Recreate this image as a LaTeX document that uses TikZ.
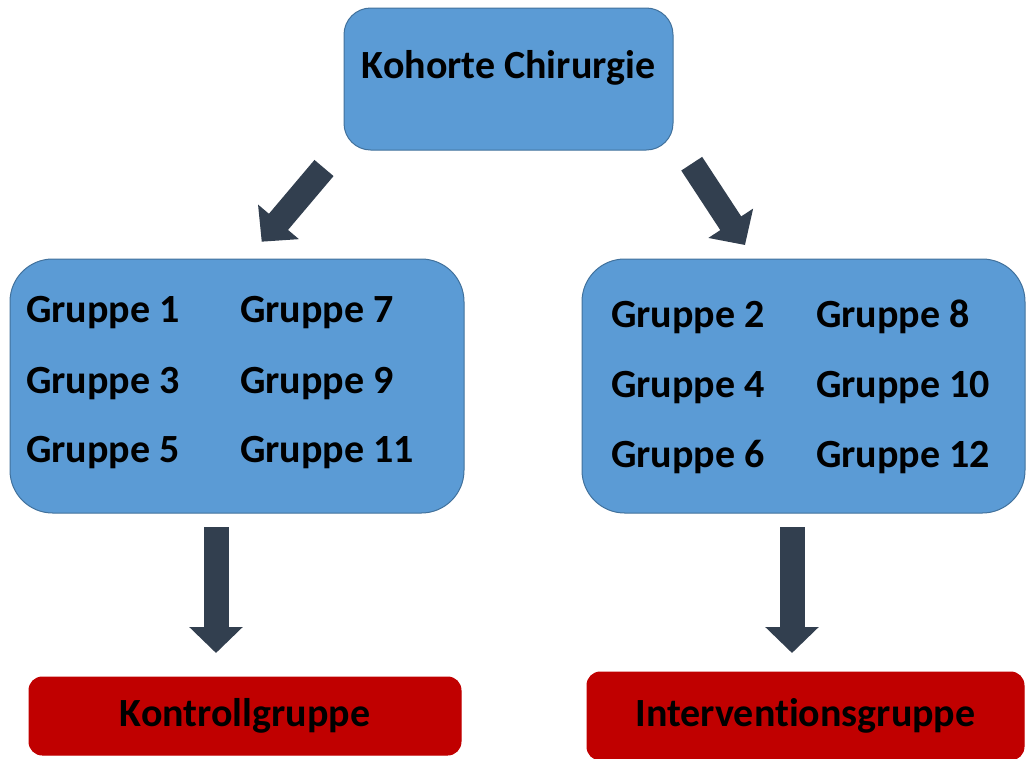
\documentclass[tikz,border=0pt]{standalone}
\usepackage{fontspec}
\setmainfont[Ligatures=NoCommon]{Carlito}
\usetikzlibrary{arrows.meta}
\definecolor{boxblue}{HTML}{5B9BD5}
\definecolor{boxedge}{HTML}{41719C}
\definecolor{arrowgray}{HTML}{323F4F}
\definecolor{boxred}{HTML}{C00000}
\tikzset{
  bluebox/.style={rectangle, rounded corners=#1, fill=boxblue, draw=boxedge, line width=0.75pt, inner sep=0pt},
  redbox/.style={rectangle, rounded corners=10pt, fill=boxred, draw=boxred, line width=0.75pt, inner sep=0pt,
    font=\fontsize{30}{35}\selectfont\bfseries},
  grp/.style={anchor=base west, inner sep=0pt, font=\fontsize{30}{35}\selectfont\bfseries},
  fatarrow/.style={draw=arrowgray, line width=18.75pt, -{Triangle[width=39pt,length=19.5pt]}}
}
\begin{document}
\begin{tikzpicture}[x=0.75pt, y=-0.75pt]
\useasboundingbox (0,0) rectangle (1026,758);

\node[bluebox=20pt, minimum width=246.75pt, text height=52.5pt, text depth=54pt,
  font=\fontsize{30}{35}\selectfont\bfseries] (kohorte) at (508.5,79) {Kohorte Chirurgie};

\node[bluebox=32pt, minimum width=340.5pt, minimum height=190.5pt] (ungerade) at (237,386) {};
\node[bluebox=32pt, minimum width=332.25pt, minimum height=190.5pt] (gerade) at (803.5,386) {};

\node[grp] (g1) at (26,322) {Gruppe 1};
\node[grp] (g3) at (26,393) {Gruppe 3};
\node[grp] (g5) at (26,462) {Gruppe 5};
\node[grp] (g7) at (240,322) {Gruppe 7};
\node[grp] (g9) at (240,393) {Gruppe 9};
\node[grp] (g11) at (240,462) {Gruppe 11};

\node[grp] (g2) at (611,327) {Gruppe 2};
\node[grp] (g4) at (611,397) {Gruppe 4};
\node[grp] (g6) at (611,467) {Gruppe 6};
\node[grp] (g8) at (816,327) {Gruppe 8};
\node[grp] (g10) at (816,397) {Gruppe 10};
\node[grp] (g12) at (816,467) {Gruppe 12};

\node[redbox, minimum width=324pt, minimum height=58.5pt] (kontroll) at (245,716) {Kontrollgruppe};
\node[redbox, minimum width=327.75pt, minimum height=66pt] (intervention) at (805.5,716) {Interventionsgruppe};

% Pfeile
\coordinate (lo) at (324,168);
\coordinate (lu) at (261.7,241.7);
\coordinate (ro) at (691.7,163.7);
\coordinate (ru) at (745,245);
\coordinate (ko) at (216,527);
\coordinate (ku) at (216,653);
\coordinate (io) at (792,527);
\coordinate (iu) at (792,653);

\draw[fatarrow] (lo) -- (lu);
\draw[fatarrow] (ro) -- (ru);
\draw[fatarrow] (ko) -- (ku);
\draw[fatarrow] (io) -- (iu);
\end{tikzpicture}
\end{document}
